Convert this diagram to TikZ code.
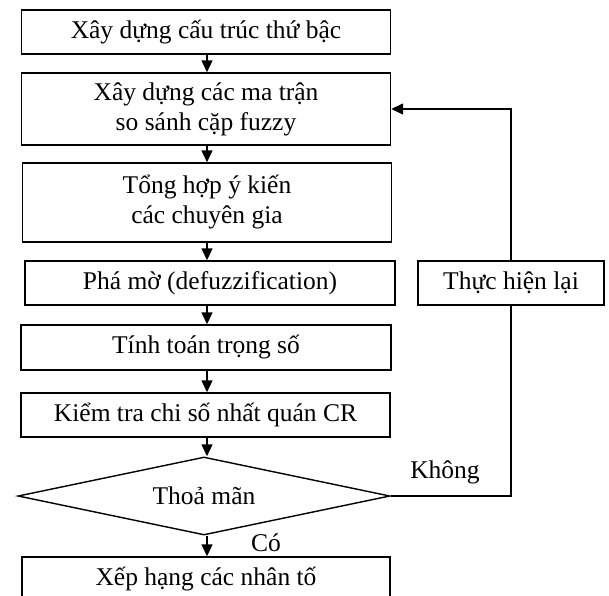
\documentclass[tikz,border=0pt]{standalone}
\usepackage{fontspec}
\setmainfont{Liberation Serif}
\usetikzlibrary{positioning, arrows.meta, shapes.geometric, calc}

\begin{document}
\begin{tikzpicture}[x=1pt, y=-1pt]
	\tikzset{
		box/.style={rectangle, draw, line width=1.4pt, minimum width=369pt, minimum height=44pt, inner sep=2pt, align=center, font=\fontsize{25.5}{30}\selectfont},
		decision/.style={diamond, draw, line width=1.4pt, aspect=4.77, minimum width=372pt, minimum height=78pt, inner sep=0pt, font=\fontsize{25.5}{30}\selectfont},
		tag/.style={font=\fontsize{25.5}{30}\selectfont},
		flow/.style={-{Triangle[length=12pt, width=11pt]}, line width=1.4pt},
		link/.style={line width=1.4pt},
	}
	
	% Frame of the picture
	\useasboundingbox (0,0) rectangle (609,595);
	
	% Main steps
	\node[box] (B1) at (206, 32) {Xây dựng cấu trúc thứ bậc};
	\node[box, minimum height=72pt] (B2) at (206, 109) {Xây dựng các ma trận\\so sánh cặp fuzzy};
	\node[box, minimum height=79pt] (B3) at (207, 202.5) {Tổng hợp ý kiến\\các chuyên gia};
	\node[box, minimum width=370pt] (B4) at (210, 283) {Phá mờ (defuzzification)};
	\node[box, minimum width=370pt, minimum height=45pt] (B5) at (206, 347.5) {Tính toán trọng số};
	\node[box] (B6) at (205.5, 415) {Kiểm tra chi số nhất quán CR};
	\node[decision] (D) at (204, 496) {Thoả mãn};
	\node[box, minimum width=368pt] (B7) at (206, 579) {Xếp hạng các nhân tố};
	
	% Feedback step
	\node[box, minimum width=186pt] (R) at (511, 283) {Thực hiện lại};
	
	% Branch labels
	\node[tag] (No) at (445, 472) {Không};
	\node[tag] (Yes) at (266, 543) {Có};
	
	% Connecting arrows
	\draw[flow] (B1.south -| 207,0) -- (B2.north -| 207,0);
	\draw[flow] (B2.south -| 207,0) -- (B3.north -| 207,0);
	\draw[flow] (B3.south -| 207,0) -- (B4.north -| 207,0);
	\draw[flow] (B4.south -| 207,0) -- (B5.north -| 207,0);
	\draw[flow] (B5.south -| 207,0) -- (B6.north -| 207,0);
	\draw[flow] (B6.south -| 207,0) -- (D.north -| 207,0);
	\draw[flow] (D.south -| 207,0) -- (B7.north -| 207,0);
	
	% Loop back
	\draw[link] (D.east) -| (R.south);
	\draw[flow] (R.north) |- (B2.east);
\end{tikzpicture}
\end{document}
